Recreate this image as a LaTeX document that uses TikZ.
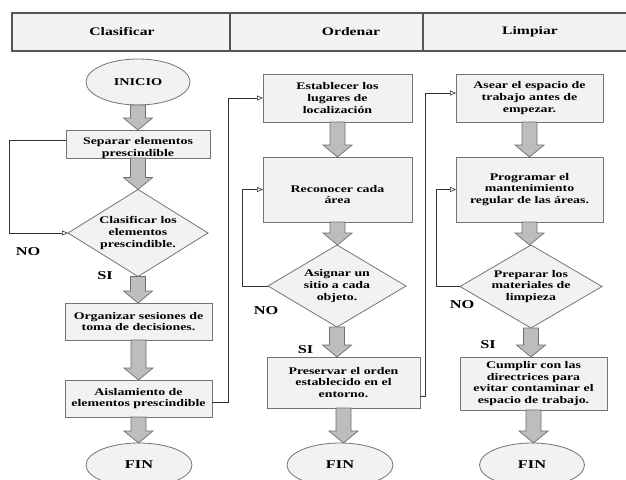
\documentclass[tikz,border=0pt]{standalone}
\usepackage{fontspec}
\setmainfont{Liberation Serif}[FakeStretch=1.36]
\usetikzlibrary{shapes.geometric,arrows.meta,calc}
\definecolor{boxfill}{HTML}{F2F2F2}
\definecolor{boxline}{HTML}{747474}
\definecolor{hdline}{HTML}{555555}
\definecolor{arrfill}{HTML}{BDBDBD}
\definecolor{arrline}{HTML}{6E6E6E}
\definecolor{conline}{HTML}{333333}
\tikzset{
  stepbox/.style={rectangle,draw=boxline,fill=boxfill,line width=0.8pt,inner sep=0pt,outer sep=0pt,align=center,font=\fontsize{10.2}{11.6}\selectfont\bfseries},
  term/.style={ellipse,draw=boxline,fill=boxfill,line width=0.8pt,inner sep=0pt,outer sep=0pt,font=\fontsize{10.5}{12}\selectfont\bfseries},
  decide/.style={diamond,draw=boxline,fill=boxfill,line width=0.8pt,inner sep=0pt,outer sep=0pt},
  dtext/.style={align=center,font=\fontsize{10.2}{11.6}\selectfont\bfseries},
  hdtext/.style={font=\fontsize{11.5}{13}\selectfont\bfseries},
  lbl/.style={font=\fontsize{12}{14}\selectfont\bfseries},
  fintext/.style={font=\fontsize{12}{14}\selectfont\bfseries},
  barr/.style={draw=arrline,fill=arrfill,line width=0.7pt,line join=miter},
  conn/.style={draw=conline,line width=0.6pt},
  conarr/.style={conn,-{Triangle[open,length=6pt,width=5pt]}}
}
\newcommand\blockarr[2]{%
  \draw[barr] let \p1=(#1.south), \p2=(#2.north) in
   (\x1-7.5pt,\y1) -- (\x1-7.5pt,\y2+12pt) -- (\x1-14.5pt,\y2+12pt) -- (\x1,\y2)
   -- (\x1+14.5pt,\y2+12pt) -- (\x1+7.5pt,\y2+12pt) -- (\x1+7.5pt,\y1) -- cycle;}
\begin{document}
\begin{tikzpicture}[x=1pt,y=-1pt]
\useasboundingbox (0,0) rectangle (626,479);
% header
\fill[fill=boxfill] (12,13) rectangle (626,51);
\draw[draw=hdline,line width=1.1pt] (626,13) -- (12,13) -- (12,51) -- (626,51);
\draw[draw=hdline,line width=1.1pt] (230,13) -- (230,51);
\draw[draw=hdline,line width=1.1pt] (423,13) -- (423,51);
\node[hdtext] (h1) at (122,32) {Clasificar};
\node[hdtext] (h2) at (351,32) {Ordenar};
\node[hdtext] (h3) at (530,32) {Limpiar};

% column 1
\node[term,minimum width=104pt,minimum height=46pt] (inicio) at (138,82) {INICIO};
\node[stepbox,minimum width=144pt,minimum height=28pt,label={[dtext,yshift=-4pt]center:{Separar elementos\\prescindible}}] (sep) at (138,144) {};
\node[decide,minimum width=140pt,minimum height=87pt,label={[dtext]center:{Clasificar los\\elementos\\prescindible.}}] (clas) at (138,233) {};
\node[stepbox,minimum width=147pt,minimum height=37pt] (org) at (138.5,321.5) {Organizar sesiones de\\toma de decisiones.};
\node[stepbox,minimum width=147pt,minimum height=37pt] (ais) at (138.5,398.5) {Aislamiento de\\elementos prescindible};
\node[term,fintext,minimum width=106pt,minimum height=44pt] (fin1) at (139,465) {FIN};

% column 2
\node[stepbox,minimum width=149pt,minimum height=48pt] (est) at (337.5,98) {Establecer los\\lugares de\\localización};
\node[stepbox,minimum width=149pt,minimum height=65pt,label={[dtext,yshift=-5pt]center:{Reconocer cada\\área}}] (rec) at (337.5,189.5) {};
\node[decide,minimum width=138pt,minimum height=82pt,label={[dtext]center:{Asignar un\\sitio a cada\\objeto.}}] (asig) at (337,286) {};
\node[stepbox,minimum width=153pt,minimum height=51pt] (pres) at (343.5,382.5) {Preservar el orden\\establecido en el\\entorno.};
\node[term,fintext,minimum width=106pt,minimum height=44pt] (fin2) at (340,465) {FIN};

% column 3
\node[stepbox,minimum width=147pt,minimum height=48pt] (ase) at (529.5,98) {Asear el espacio de\\trabajo antes de\\empezar.};
\node[stepbox,minimum width=147pt,minimum height=65pt] (prog) at (529.5,189.5) {Programar el\\mantenimiento\\regular de las áreas.};
\node[decide,minimum width=142pt,minimum height=83pt,label={[dtext]center:{Preparar los\\materiales de\\limpieza}}] (prep) at (531,286.5) {};
\node[stepbox,minimum width=147pt,minimum height=53pt] (cum) at (533.5,383.5) {Cumplir con las\\directrices para\\evitar contaminar el\\espacio de trabajo.};
\node[term,fintext,minimum width=105pt,minimum height=44pt] (fin3) at (532,465) {FIN};

% block arrows
\blockarr{inicio}{sep}
\blockarr{sep}{clas}
\blockarr{clas}{org}
\blockarr{org}{ais}
\blockarr{ais}{fin1}
\blockarr{est}{rec}
\blockarr{rec}{asig}
\blockarr{asig}{pres}
\blockarr{pres}{fin2}
\blockarr{ase}{prog}
\blockarr{prog}{prep}
\blockarr{prep}{cum}
\blockarr{cum}{fin3}

% connectors
\draw[conarr] ($(sep.west)+(0,-4)$) -- ++(-57,0) |- (clas.west);
\draw[conarr] ($(ais.east)+(0,3.5)$) -- ++(16,0) |- (est.west);
\draw[conarr] (asig.west) -- ++(-26,0) |- (rec.west);
\draw[conarr] ($(pres.east)+(0,14)$) -- ++(5,0) |- ($(ase.west)+(0,-5)$);
\draw[conarr] (prep.west) -- ++(-24,0) |- (prog.west);

% labels
\node[lbl] (no1) at (28,252) {NO};
\node[lbl] (si1) at (105,276) {SI};
\node[lbl] (no2) at (266,311) {NO};
\node[lbl] (si2) at (305.5,350) {SI};
\node[lbl] (no3) at (462,305) {NO};
\node[lbl] (si3) at (488,345) {SI};
\end{tikzpicture}
\end{document}
